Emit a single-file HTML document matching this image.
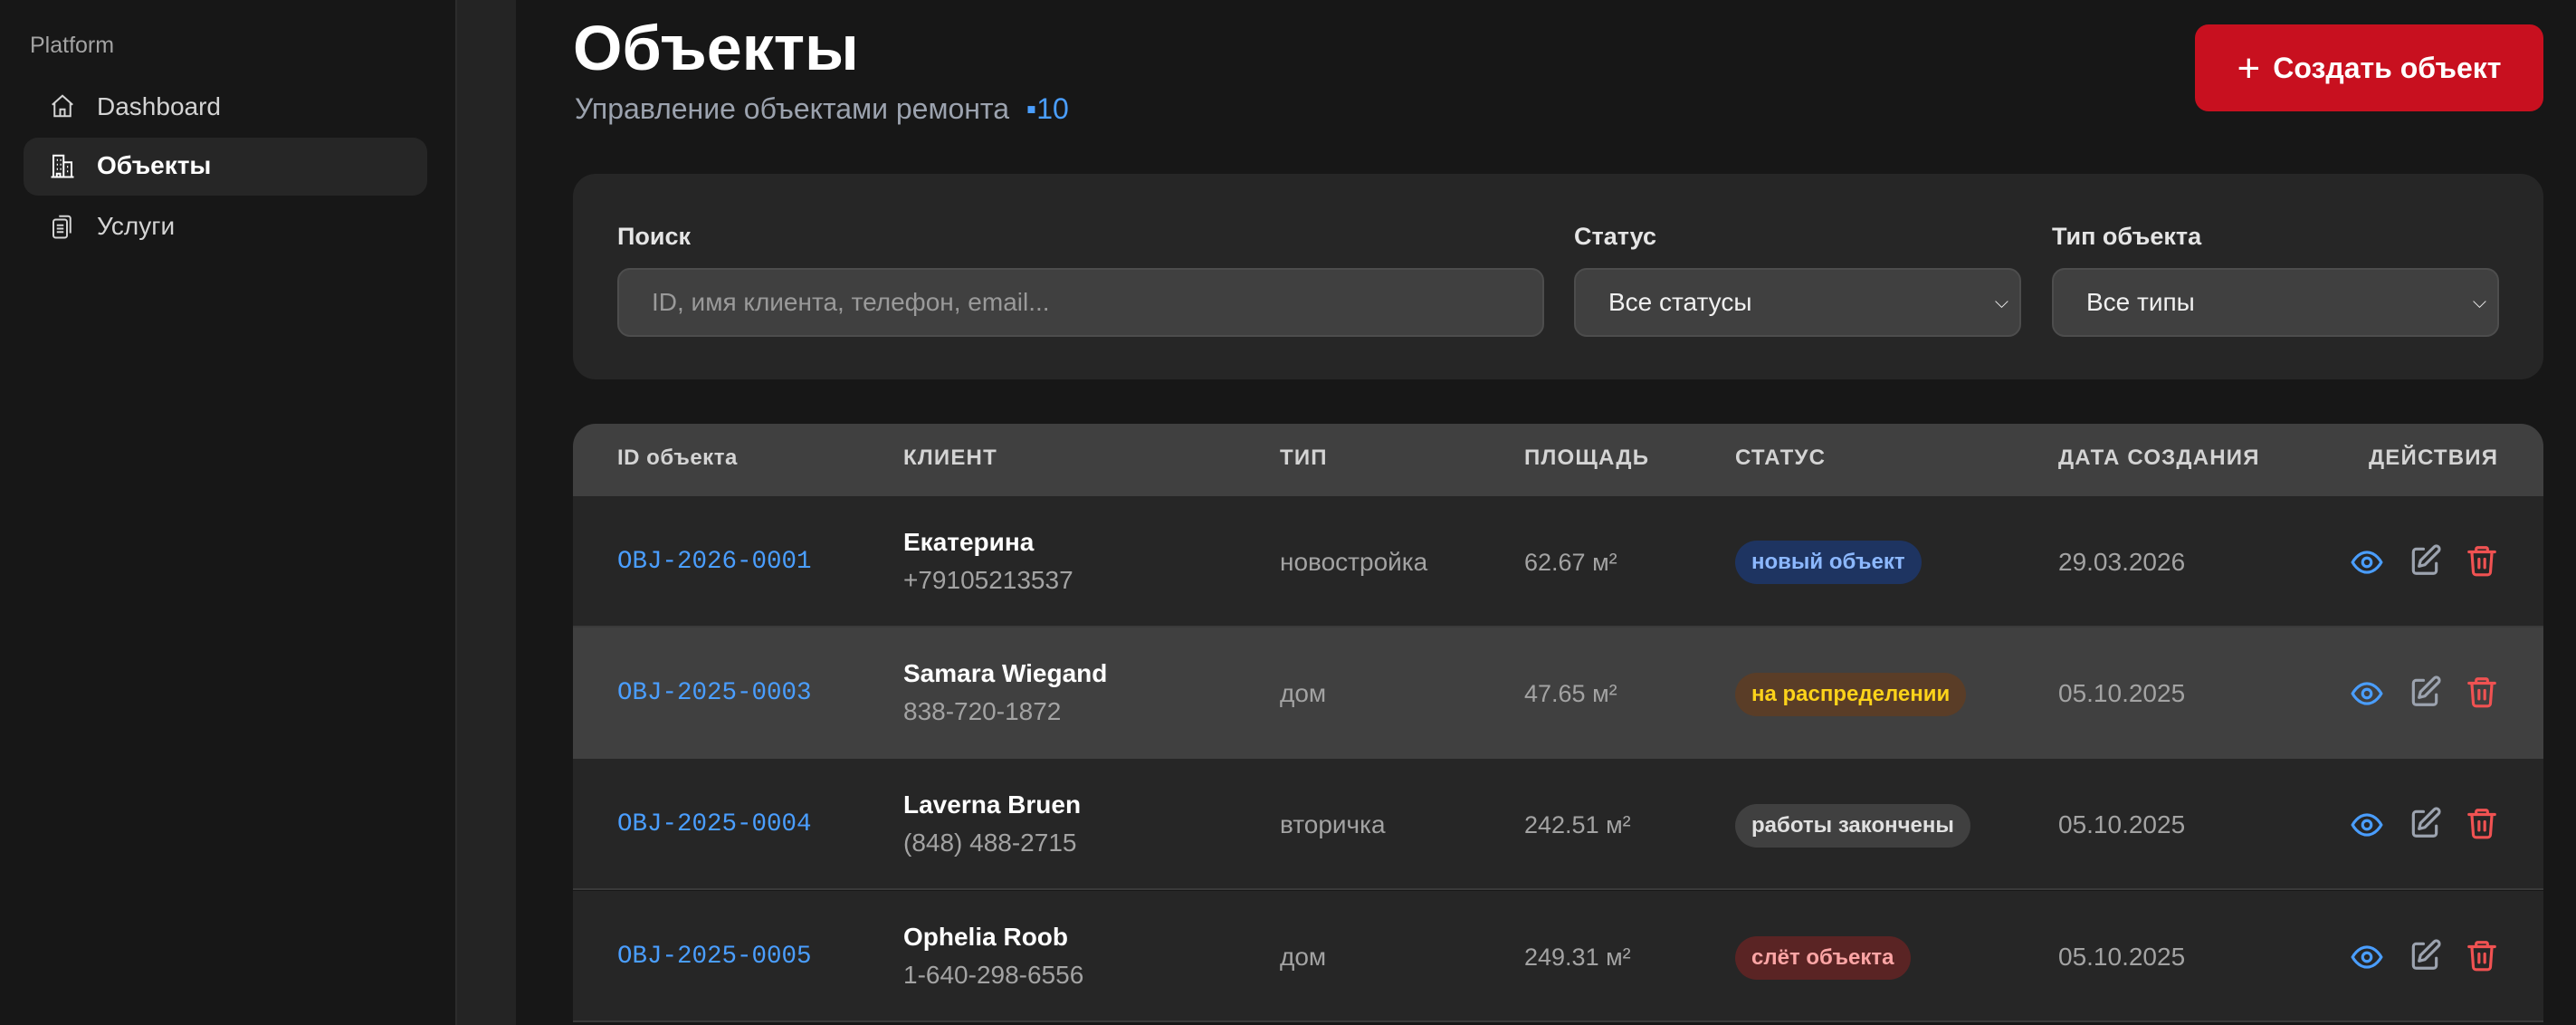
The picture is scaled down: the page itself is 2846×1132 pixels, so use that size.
<!DOCTYPE html>
<html><head><meta charset="utf-8"><style>
*{margin:0;padding:0;box-sizing:border-box}
body{width:2846px;height:1132px;background:#171717;font-family:"Liberation Sans","Noto Sans CJK SC",sans-serif;position:relative;overflow:hidden;color:#fff}
.a{position:absolute;white-space:nowrap}
.side{left:0;top:0;width:505px;height:1132px;background:#171717;border-right:2px solid #2c2c2c}
.strip{left:505px;top:0;width:65px;height:1132px;background:#242424}
.nav{font-size:28px;color:#d4d4d4;line-height:34px}
.lbl{font-size:27px;font-weight:bold;color:#e5e5e5;top:244px;line-height:34px}
.inp{top:296px;height:76px;background:#404040;border:2px solid #4d4d4d;border-radius:14px;font-size:28px;line-height:72px;padding-left:36px}
.th{top:489px;font-size:24px;font-weight:bold;color:#d4d4d4;letter-spacing:1.2px;line-height:34px}
.row{left:633px;width:2177px;height:145px;background:#262626;border-bottom:2px solid #3a3a3a}
.id{font-family:"Liberation Mono",monospace;font-size:27.5px;color:#4a9eff;left:682px;line-height:34px}
.nm{font-size:28px;font-weight:bold;color:#fff;left:998px;line-height:34px}
.ph{font-size:28px;color:#a3a3a3;left:998px;line-height:34px}
.tp{font-size:28px;color:#a3a3a3;left:1414px;line-height:34px}
.ar{font-size:27px;color:#a3a3a3;left:1684px;line-height:34px}
.dt{font-size:28px;color:#a3a3a3;left:2274px;line-height:34px}
.bd{left:1917px;height:48px;border-radius:24px;font-size:24px;font-weight:bold;line-height:48px;padding:0 18px}
</style></head><body>
<div class="a side"></div>
<div class="a strip"></div>
<div class="a" style="left:33px;top:36px;font-size:25px;color:#a3a3a3">Platform</div>
<div class="a" style="left:26px;top:152px;width:446px;height:64px;background:#262626;border-radius:16px"></div>
<svg class="a" style="left:54px;top:102px" width="30" height="30" viewBox="0 0 24 24" fill="none" stroke="#d4d4d4" stroke-width="1.6"><path d="M3 11l9-8 9 8M5 9.5V21h14V9.5M10 21v-6h4v6"/></svg>
<div class="a nav" style="left:107px;top:101px">Dashboard</div>
<svg class="a" style="left:54px;top:168px" width="30" height="30" viewBox="0 0 24 24" fill="none" stroke="#fff" stroke-width="1.6"><path d="M2 22h20M4 22V3h9v19M13 9h7v13M7 7h1M10 7h1M7 11h1M10 11h1M7 15h1M10 15h1M16 13h1M16 17h1M7 22v-3h3v3"/></svg>
<div class="a nav" style="left:107px;top:166px;color:#fff;font-weight:bold">Объекты</div>
<svg class="a" style="left:54px;top:235px" width="30" height="30" viewBox="0 0 24 24" fill="none" stroke="#d4d4d4" stroke-width="1.6"><rect x="4" y="6" width="12" height="16" rx="2"/><path d="M9 3h8a2 2 0 0 1 2 2v13M7 11h6M7 14h6M7 17h6"/></svg>
<div class="a nav" style="left:107px;top:233px">Услуги</div>

<div class="a" style="left:633px;top:13px;font-size:70px;font-weight:bold;line-height:80px">Объекты</div>
<div class="a" style="left:635px;top:101px;font-size:32px;color:#9ca3af;line-height:38px">Управление объектами ремонта <span style="color:#4a9eff;margin-left:10px">▪10</span></div>

<div class="a" style="left:2425px;top:27px;width:385px;height:96px;background:#c8101f;border-radius:15px;font-size:32px;font-weight:bold;line-height:96px;text-align:center"><span style="font-size:44px;font-weight:normal;vertical-align:-4px;margin-right:14px">+</span>Создать объект</div>

<div class="a" style="left:633px;top:192px;width:2177px;height:227px;background:#262626;border-radius:25px"></div>
<div class="a lbl" style="left:682px">Поиск</div>
<div class="a lbl" style="left:1739px">Статус</div>
<div class="a lbl" style="left:2267px">Тип объекта</div>
<div class="a inp" style="left:682px;width:1024px;color:#9a9a9a">ID, имя клиента, телефон, email...</div>
<div class="a inp" style="left:1739px;width:494px;color:#f0f0f0">Все статусы<span style="position:absolute;right:12px;font-size:20px">⌵</span></div>
<div class="a inp" style="left:2267px;width:494px;color:#f0f0f0">Все типы<span style="position:absolute;right:12px;font-size:20px">⌵</span></div>

<div class="a" style="left:633px;top:468px;width:2177px;height:80px;background:#404040;border-radius:25px 25px 0 0"></div>
<div class="a th" style="left:682px;letter-spacing:0.5px">ID объекта</div>
<div class="a th" style="left:998px">КЛИЕНТ</div>
<div class="a th" style="left:1414px">ТИП</div>
<div class="a th" style="left:1684px">ПЛОЩАДЬ</div>
<div class="a th" style="left:1917px">СТАТУС</div>
<div class="a th" style="left:2274px">ДАТА СОЗДАНИЯ</div>
<div class="a th" style="left:2617px">ДЕЙСТВИЯ</div>

<div class="a row" style="top:548px"></div>
<div class="a row" style="top:693px;background:#404040;border-bottom-color:#404040"></div>
<div class="a row" style="top:838px"></div>
<div class="a row" style="top:984px"></div>

<div class="a id" style="top:604px">OBJ-2026-0001</div>
<div class="a nm" style="top:582px">Екатерина</div>
<div class="a ph" style="top:624px">+79105213537</div>
<div class="a tp" style="top:604px">новостройка</div>
<div class="a ar" style="top:604px">62.67 м²</div>
<div class="a bd" style="top:597px;background:#1e3461;color:#8cb8ff">новый объект</div>
<div class="a dt" style="top:604px">29.03.2026</div>

<div class="a id" style="top:749px">OBJ-2025-0003</div>
<div class="a nm" style="top:727px">Samara Wiegand</div>
<div class="a ph" style="top:769px">838-720-1872</div>
<div class="a tp" style="top:749px">дом</div>
<div class="a ar" style="top:749px">47.65 м²</div>
<div class="a bd" style="top:743px;background:#5a3d27;color:#fcd31a">на распределении</div>
<div class="a dt" style="top:749px">05.10.2025</div>

<div class="a id" style="top:894px">OBJ-2025-0004</div>
<div class="a nm" style="top:872px">Laverna Bruen</div>
<div class="a ph" style="top:914px">(848) 488-2715</div>
<div class="a tp" style="top:894px">вторичка</div>
<div class="a ar" style="top:894px">242.51 м²</div>
<div class="a bd" style="top:888px;background:#404040;color:#e0e0e0">работы закончены</div>
<div class="a dt" style="top:894px">05.10.2025</div>

<div class="a id" style="top:1040px">OBJ-2025-0005</div>
<div class="a nm" style="top:1018px">Ophelia Roob</div>
<div class="a ph" style="top:1060px">1-640-298-6556</div>
<div class="a tp" style="top:1040px">дом</div>
<div class="a ar" style="top:1040px">249.31 м²</div>
<div class="a bd" style="top:1034px;background:#5a2424;color:#fca5a5">слёт объекта</div>
<div class="a dt" style="top:1040px">05.10.2025</div>

<svg width="0" height="0" style="position:absolute"><defs>
<g id="eye"><path d="M2 12s3.6-7 10-7 10 7 10 7-3.6 7-10 7S2 12 2 12z" fill="none" stroke="#4a9eff" stroke-width="2"/><circle cx="12" cy="12" r="3" fill="none" stroke="#4a9eff" stroke-width="2"/></g>
<g id="ed" fill="none" stroke="#9ca3af" stroke-width="2" stroke-linecap="round" stroke-linejoin="round"><path d="M11 4H6a2 2 0 0 0-2 2v13a2 2 0 0 0 2 2h12a2 2 0 0 0 2-2v-5"/><path d="M18.5 2.5a2.1 2.1 0 0 1 3 3L12 15l-4 1 1-4z"/></g>
<g id="tr" fill="none" stroke="#f05252" stroke-width="2" stroke-linecap="round" stroke-linejoin="round"><path d="M3 6h18M8 6V4a1 1 0 0 1 1-1h6a1 1 0 0 1 1 1v2M5 6l1 14a2 2 0 0 0 2 2h8a2 2 0 0 0 2-2l1-14M10 11v6M14 11v6"/></g>
</defs></svg>
<svg class="a" style="left:2596px;top:602px" width="38" height="38" viewBox="0 0 24 24"><use href="#eye"/></svg>
<svg class="a" style="left:2660px;top:600px" width="38" height="38" viewBox="0 0 24 24"><use href="#ed"/></svg>
<svg class="a" style="left:2723px;top:600px" width="38" height="38" viewBox="0 0 24 24"><use href="#tr"/></svg>
<svg class="a" style="left:2596px;top:747px" width="38" height="38" viewBox="0 0 24 24"><use href="#eye"/></svg>
<svg class="a" style="left:2660px;top:745px" width="38" height="38" viewBox="0 0 24 24"><use href="#ed"/></svg>
<svg class="a" style="left:2723px;top:745px" width="38" height="38" viewBox="0 0 24 24"><use href="#tr"/></svg>
<svg class="a" style="left:2596px;top:892px" width="38" height="38" viewBox="0 0 24 24"><use href="#eye"/></svg>
<svg class="a" style="left:2660px;top:890px" width="38" height="38" viewBox="0 0 24 24"><use href="#ed"/></svg>
<svg class="a" style="left:2723px;top:890px" width="38" height="38" viewBox="0 0 24 24"><use href="#tr"/></svg>
<svg class="a" style="left:2596px;top:1038px" width="38" height="38" viewBox="0 0 24 24"><use href="#eye"/></svg>
<svg class="a" style="left:2660px;top:1036px" width="38" height="38" viewBox="0 0 24 24"><use href="#ed"/></svg>
<svg class="a" style="left:2723px;top:1036px" width="38" height="38" viewBox="0 0 24 24"><use href="#tr"/></svg>
</body></html>
